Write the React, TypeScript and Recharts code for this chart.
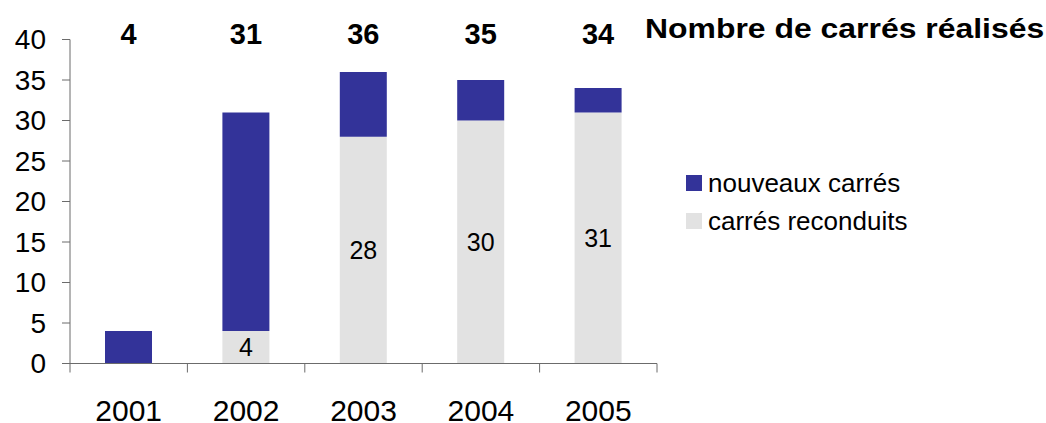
import { BarChart, Bar, XAxis, YAxis, LabelList } from "recharts";

const years = ["2001", "2002", "2003", "2004", "2005"];
const reconduits = [0, 4, 28, 30, 31];
const nouveaux = [4, 27, 8, 5, 3];
const yTicks = [0, 5, 10, 15, 20, 25, 30, 35, 40];

const BLUE = "#333399";
const GREY = "#E2E2E2";
const AXIS = "#6b6b6b";
const FONT = "'Liberation Sans', Arial, sans-serif";

const data = years.map((year, i) => ({
  year,
  reconduits: reconduits[i],
  nouveaux: nouveaux[i],
  total: reconduits[i] + nouveaux[i],
}));

const legendItems = [
  { label: "nouveaux carrés", color: BLUE },
  { label: "carrés reconduits", color: GREY },
];

const PLOT_LEFT = 70;
const PLOT_RIGHT = 657;
const BAND = (PLOT_RIGHT - PLOT_LEFT) / years.length;

function YearTick(props: any) {
  const { x, y, payload, index } = props;
  const left = x - BAND / 2;
  const last = index === years.length - 1;
  return (
    <g>
      <line x1={left} y1={y - 8} x2={left} y2={y + 1} stroke={AXIS} strokeWidth={1} />
      {last && (
        <line x1={x + BAND / 2} y1={y - 8} x2={x + BAND / 2} y2={y + 1} stroke={AXIS} strokeWidth={1} />
      )}
      <text x={x} y={y + 49} textAnchor="middle" fontSize={30} fontFamily={FONT} fill="#000">
        {payload.value}
      </text>
    </g>
  );
}

function TotalLabel(props: any) {
  const { x, width, index } = props;
  return (
    <text
      x={Number(x) + Number(width) / 2}
      y={44}
      textAnchor="middle"
      fontSize={29}
      fontWeight="bold"
      fontFamily={FONT}
      fill="#000"
    >
      {data[index].total}
    </text>
  );
}

function InnerLabel(props: any) {
  const { x, y, width, height, value } = props;
  if (!value) return null;
  return (
    <text
      x={Number(x) + Number(width) / 2}
      y={Number(y) + Number(height) / 2 + 9}
      textAnchor="middle"
      fontSize={25}
      fontFamily={FONT}
      fill="#000"
    >
      {value}
    </text>
  );
}

export default function App() {
  return (
    <div style={{ position: "absolute", left: 0, top: 0, width: 1046, height: 423, background: "#fff" }}>
      <BarChart
        width={1046}
        height={423}
        data={data}
        margin={{ top: 39.5, right: 1046 - PLOT_RIGHT, bottom: 0, left: 0 }}
        barSize={47}
      >
        <XAxis
          dataKey="year"
          height={59.5}
          axisLine={{ stroke: AXIS }}
          tickLine={false}
          tick={<YearTick />}
          interval={0}
        />
        <YAxis
          domain={[0, 40]}
          ticks={yTicks}
          width={PLOT_LEFT}
          axisLine={{ stroke: AXIS }}
          tickLine={{ stroke: AXIS }}
          tickSize={8}
          tick={{ fontSize: 28, fontFamily: FONT, fill: "#000", dx: -14 }}
          interval={0}
        />
        <Bar dataKey="reconduits" stackId="a" fill={GREY} isAnimationActive={false}>
          <LabelList dataKey="reconduits" content={<InnerLabel />} />
        </Bar>
        <Bar dataKey="nouveaux" stackId="a" fill={BLUE} isAnimationActive={false}>
          <LabelList dataKey="total" content={<TotalLabel />} />
        </Bar>
      </BarChart>
      <div
        style={{
          position: "absolute",
          left: 645,
          top: 13,
          fontFamily: FONT,
          fontWeight: "bold",
          fontSize: 28,
          lineHeight: "32px",
          whiteSpace: "nowrap",
          transform: "scaleX(1.14)",
          transformOrigin: "left top",
        }}
      >
        Nombre de carrés réalisés
      </div>
      <div style={{ position: "absolute", left: 686, top: 164, fontFamily: FONT, fontSize: 26, color: "#000" }}>
        {legendItems.map((item) => (
          <div key={item.label} style={{ display: "flex", alignItems: "center", height: 38 }}>
            <span style={{ width: 16, height: 16, background: item.color, marginRight: 6 }} />
            <span>{item.label}</span>
          </div>
        ))}
      </div>
    </div>
  );
}
